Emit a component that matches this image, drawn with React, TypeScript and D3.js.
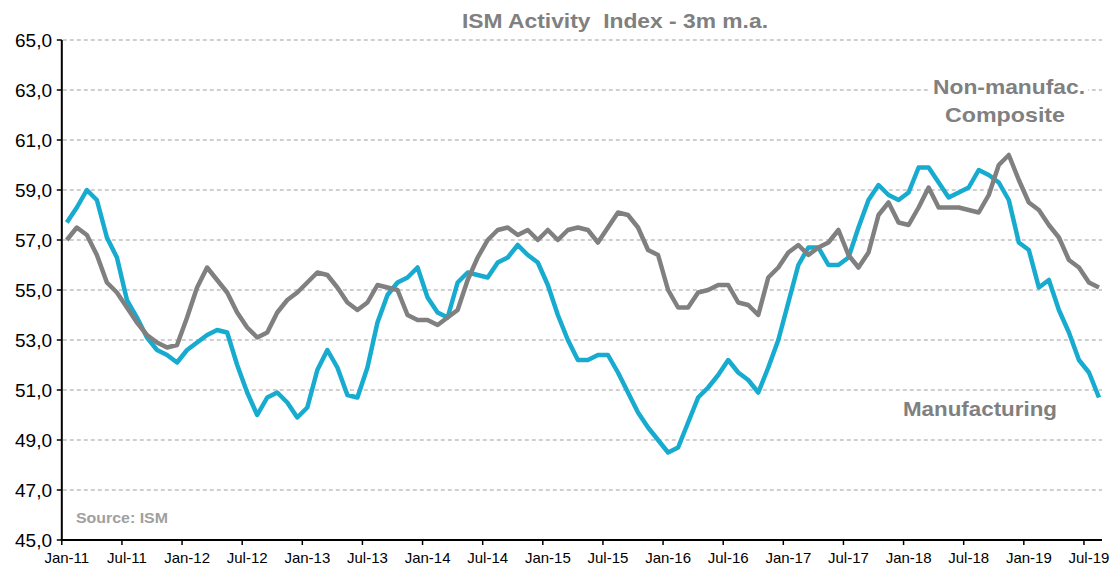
import React from "react";
import * as d3 from "d3";

// ISM 3m moving averages, monthly from Jan-11 to Aug-19
const manufacturing = [
  57.7, 58.3, 59.0, 58.6, 57.1, 56.3, 54.6, 53.9, 53.1, 52.6, 52.4, 52.1,
  52.6, 52.9, 53.2, 53.4, 53.3, 52.0, 50.9, 50.0, 50.7, 50.9, 50.5, 49.9,
  50.3, 51.8, 52.6, 51.9, 50.8, 50.7, 51.9, 53.7, 54.8, 55.3, 55.5, 55.9,
  54.7, 54.1, 53.9, 55.3, 55.7, 55.6, 55.5, 56.1, 56.3, 56.8, 56.4, 56.1,
  55.2, 54.0, 53.0, 52.2, 52.2, 52.4, 52.4, 51.7, 50.9, 50.1, 49.5, 49.0,
  48.5, 48.7, 49.7, 50.7, 51.1, 51.6, 52.2, 51.7, 51.4, 50.9, 51.9, 53.0,
  54.5, 56.0, 56.7, 56.7, 56.0, 56.0, 56.3, 57.5, 58.6, 59.2, 58.8, 58.6,
  58.9, 59.9, 59.9, 59.3, 58.7, 58.9, 59.1, 59.8, 59.6, 59.3, 58.6, 56.9,
  56.6, 55.1, 55.4, 54.2, 53.3, 52.2, 51.7, 50.7,
];

const nonManufacturing = [
  57.0, 57.5, 57.2, 56.4, 55.3, 54.9, 54.3, 53.7, 53.2, 52.9, 52.7, 52.8,
  53.9, 55.1, 55.9, 55.4, 54.9, 54.1, 53.5, 53.1, 53.3, 54.1, 54.6, 54.9,
  55.3, 55.7, 55.6, 55.1, 54.5, 54.2, 54.5, 55.2, 55.1, 55.0, 54.0, 53.8,
  53.8, 53.6, 53.9, 54.2, 55.4, 56.3, 57.0, 57.4, 57.5, 57.2, 57.4, 57.0,
  57.4, 57.0, 57.4, 57.5, 57.4, 56.9, 57.5, 58.1, 58.0, 57.5, 56.6, 56.4,
  55.0, 54.3, 54.3, 54.9, 55.0, 55.2, 55.2, 54.5, 54.4, 54.0, 55.5, 55.9,
  56.5, 56.8, 56.4, 56.7, 56.9, 57.4, 56.4, 55.9, 56.5, 58.0, 58.5, 57.7,
  57.6, 58.3, 59.1, 58.3, 58.3, 58.3, 58.2, 58.1, 58.8, 60.0, 60.4, 59.4,
  58.5, 58.2, 57.6, 57.1, 56.2, 55.9, 55.3, 55.1,
];

const months = d3.timeMonth.range(new Date(2011, 0, 1), new Date(2019, 8, 1));
const yTicks = [45, 47, 49, 51, 53, 55, 57, 59, 61, 63, 65];

const BLUE = "#17abcf";
const GREY = "#808080";

export default function App() {
  const width = 1116;
  const height = 566;
  const left = 61.8;
  const right = 1104;
  const top = 40;
  const bottom = 540;

  const x = d3
    .scaleBand<number>()
    .domain(d3.range(months.length))
    .range([left, right])
    .paddingInner(0)
    .paddingOuter(0);
  const cx = (i: number) => (x(i) as number) + x.bandwidth() / 2;
  const y = d3.scaleLinear().domain([45, 65]).range([bottom, top]);

  const line = d3
    .line<number>()
    .x((_, i) => cx(i))
    .y((d) => y(d));

  const fmt = d3.timeFormat("%b-%y");
  const labelIdx = d3.range(0, months.length, 6);
  const axisEnd = 1102;

  return (
    <svg
      width={width}
      height={height}
      style={{ position: "absolute", left: 0, top: 0, background: "#fff" }}
      fontFamily="'Liberation Sans', Arial, sans-serif"
    >
      {/* horizontal grid */}
      {yTicks.slice(1).map((t) => (
        <line
          key={"g" + t}
          x1={left + 1}
          x2={axisEnd}
          y1={y(t)}
          y2={y(t)}
          stroke="#c0c0c0"
          strokeWidth={1.3}
          strokeDasharray="4,3"
        />
      ))}

      {/* title */}
      <text
        x={615}
        y={28}
        textAnchor="middle"
        fontSize={20}
        fontWeight="bold"
        fill={GREY}
        textLength={306}
        lengthAdjust="spacingAndGlyphs"
        style={{ whiteSpace: "pre" }}
      >
        ISM Activity  Index - 3m m.a.
      </text>

      {/* series */}
      <path d={line(manufacturing) ?? ""} fill="none" stroke={BLUE} strokeWidth={4.5} strokeLinejoin="round" />
      <path d={line(nonManufacturing) ?? ""} fill="none" stroke={GREY} strokeWidth={4.5} strokeLinejoin="round" />

      {/* axes */}
      <line x1={left} x2={left} y1={top} y2={bottom} stroke="#000" strokeWidth={2} />
      <line x1={left - 1} x2={axisEnd} y1={bottom} y2={bottom} stroke="#000" strokeWidth={2} />
      {yTicks.map((t) => (
        <g key={"y" + t}>
          <line x1={left - 5} x2={left} y1={y(t)} y2={y(t)} stroke="#000" strokeWidth={1.5} />
          <text x={52} y={y(t) + 7} textAnchor="end" fontSize={19} fill="#000">
            {t.toFixed(1).replace(".", ",")}
          </text>
        </g>
      ))}
      {labelIdx.map((i) => (
        <g key={"x" + i}>
          <line x1={x(i)} x2={x(i)} y1={bottom} y2={bottom + 5} stroke="#000" strokeWidth={1.5} />
          <text x={cx(i)} y={bottom + 23} textAnchor="middle" fontSize={15} fill="#000">
            {fmt(months[i])}
          </text>
        </g>
      ))}

      {/* series labels */}
      <rect x={930} y={74} width={158} height={52} fill="#fff" />
      <text x={1009} y={94} textAnchor="middle" fontSize={21} fontWeight="bold" fill={GREY} textLength={152} lengthAdjust="spacingAndGlyphs">
        Non-manufac.
      </text>
      <text x={1005} y={122} textAnchor="middle" fontSize={21} fontWeight="bold" fill={GREY} textLength={120} lengthAdjust="spacingAndGlyphs">
        Composite
      </text>
      <text x={980} y={416} textAnchor="middle" fontSize={21} fontWeight="bold" fill={GREY} textLength={154} lengthAdjust="spacingAndGlyphs">
        Manufacturing
      </text>

      <text x={76} y={523} fontSize={15} fontWeight="bold" fill="#a0a0a0" textLength={92} lengthAdjust="spacingAndGlyphs">
        Source: ISM
      </text>
    </svg>
  );
}
